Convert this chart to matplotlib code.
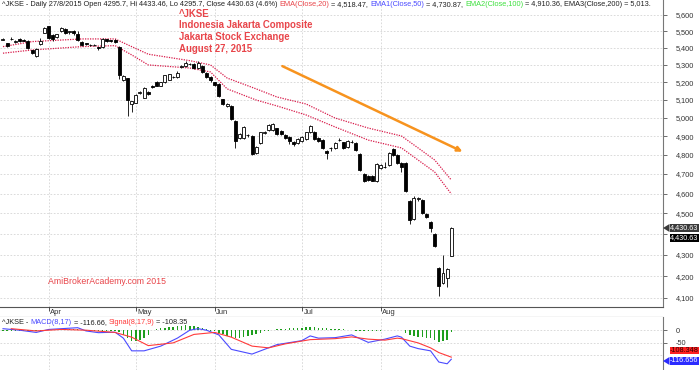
import matplotlib
matplotlib.use('Agg')
import matplotlib.pyplot as plt
from matplotlib.patches import Polygon
from matplotlib.ticker import FixedLocator, FuncFormatter, NullLocator

plt.rcParams['font.family'] = ['Liberation Sans', 'DejaVu Sans']

# ---- data ----
opens = [5450, 5428, 5452, 5438, 5452, 5450, 5442, 5385, 5352, 5425,
         5492, 5530, 5480, 5465, 5502, 5516, 5498, 5502, 5486, 5436,
         5428, 5420, 5418, 5404, 5405, 5452, 5446, 5448, 5405, 5215,
         5222, 5078, 5085, 5138, 5112, 5145, 5178, 5202, 5180, 5200,
         5215, 5232, 5230, 5288, 5292, 5304, 5306, 5280, 5296, 5256,
         5230, 5200, 5190, 5102, 5066, 5066, 4982, 4890, 4892, 4906,
         4900, 4812, 4862, 4918, 4932, 4935, 4942, 4930, 4906, 4896,
         4870, 4865, 4875, 4886, 4920, 4922, 4890, 4880, 4822, 4834,
         4836, 4878, 4866, 4840, 4869, 4862, 4806, 4700, 4690, 4690,
         4665, 4732, 4734, 4746, 4830, 4800, 4756, 4756, 4560, 4475,
         4572, 4565, 4496, 4460, 4400, 4240, 4170, 4190, 4295.7]
closes = [5455, 5412, 5456, 5444, 5440, 5444, 5400, 5370, 5395, 5442,
          5522, 5462, 5455, 5482, 5520, 5490, 5500, 5492, 5445, 5420,
          5424, 5418, 5417, 5402, 5455, 5442, 5442, 5434, 5240, 5236,
          5100, 5092, 5130, 5142, 5168, 5134, 5170, 5180, 5200, 5240,
          5245, 5228, 5256, 5291, 5310, 5306, 5280, 5312, 5260, 5230,
          5210, 5186, 5120, 5076, 5076, 4995, 4875, 4910, 4950, 4904,
          4805, 4840, 4920, 4922, 4960, 4966, 4912, 4912, 4892, 4876,
          4856, 4886, 4898, 4920, 4955, 4886, 4876, 4836, 4808, 4836,
          4865, 4880, 4836, 4874, 4871, 4826, 4720, 4666, 4670, 4666,
          4750, 4745, 4736, 4810, 4800, 4756, 4736, 4612, 4470, 4575,
          4575, 4500, 4482, 4430, 4340, 4155, 4215, 4235, 4430.63]
highs = [5462, 5432, 5465, 5450, 5458, 5455, 5446, 5390, 5400, 5460,
         5528, 5535, 5485, 5486, 5525, 5520, 5504, 5506, 5500, 5440,
         5432, 5424, 5422, 5408, 5460, 5456, 5450, 5452, 5410, 5240,
         5226, 5095, 5135, 5148, 5174, 5150, 5185, 5206, 5204, 5244,
         5250, 5236, 5262, 5300, 5325, 5312, 5310, 5325, 5300, 5260,
         5236, 5204, 5194, 5106, 5080, 5070, 4986, 4915, 4955, 4912,
         4905, 4845, 4925, 4928, 4965, 4970, 4946, 4934, 4910, 4900,
         4874, 4890, 4902, 4925, 4962, 4926, 4894, 4884, 4826, 4842,
         4870, 4890, 4870, 4880, 4878, 4866, 4810, 4704, 4694, 4694,
         4755, 4750, 4760, 4815, 4835, 4804, 4760, 4760, 4565, 4585,
         4580, 4570, 4500, 4464, 4404, 4244, 4300, 4240, 4433.46]
lows = [5445, 5408, 5448, 5432, 5436, 5440, 5396, 5365, 5345, 5420,
        5488, 5455, 5440, 5460, 5498, 5486, 5485, 5480, 5440, 5410,
        5418, 5412, 5410, 5385, 5400, 5438, 5438, 5430, 5220, 5205,
        5010, 5030, 5080, 5132, 5108, 5130, 5165, 5176, 5176, 5196,
        5212, 5224, 5226, 5282, 5288, 5298, 5276, 5276, 5255, 5225,
        5200, 5180, 5115, 5070, 5060, 4990, 4835, 4886, 4885, 4898,
        4800, 4805, 4858, 4914, 4928, 4930, 4908, 4906, 4885, 4860,
        4845, 4860, 4870, 4882, 4915, 4882, 4870, 4832, 4780, 4820,
        4832, 4874, 4830, 4836, 4864, 4820, 4716, 4660, 4666, 4662,
        4660, 4726, 4730, 4740, 4795, 4750, 4710, 4608, 4450, 4470,
        4560, 4495, 4478, 4410, 4336, 4111, 4165, 4150, 4295.7]

env_idx = [0, 7, 19, 27, 31, 35, 45, 50, 54, 61, 66, 73, 80, 88, 96, 100, 104, 108]
env_upper = [5408, 5438, 5454, 5454, 5408, 5363, 5325, 5300, 5224, 5162,
             5116, 5077, 4999, 4944, 4901, 4837, 4773, 4669]
env_lower = [5369, 5388, 5408, 5414, 5359, 5300, 5282, 5259, 5162, 5099,
             5066, 5016, 4950, 4879, 4837, 4773, 4710, 4598]

macd_idx = [0, 4, 8, 11, 18, 20, 23, 27, 29, 31, 34, 38, 42, 45, 47, 49, 52, 55,
            60, 63, 66, 72, 74, 76, 80, 84, 88, 92, 95, 96, 98, 100, 103, 105, 107, 108]
macd_val = [6, 0, -9, 3, 10, -3, -10, -8, -32, -83, -83, -64, -32, 0, 6, 0, -19, -77,
            -96, -77, -58, -42, -23, -32, -30, -19, -49, -36, -23, -28, -64, -74, -83,
            -128, -135, -116.66]
sig_idx = [2, 8, 14, 20, 27, 31, 35, 41, 46, 51, 55, 60, 64, 68, 74, 80, 84, 88,
           92, 95, 96, 100, 103, 105, 108]
sig_val = [6, -3, 3, 0, -9, -28, -62, -51, -17, -9, -28, -64, -71, -55, -38, -34,
           -27, -36, -40, -32, -34, -51, -71, -90, -108.35]
hist = [-2, -3, -3, -4, -4, -3, -4, -5, -4, -3,
        1, 2, 2, 1, 2, 3, 3, 4, 3, 2,
        -2, -3, -4, -4, -5, -4, -4, -3,
        -8, -20, -32, -42, -45, -40, -30, -18,
        2, 5, 8, 10, 12, 13, 15, 17, 19, 18, 16, 12, 8, 3,
        -2,
        -5, -10, -15, -22, -28, -32, -31, -28, -25, -20, -15, -10,
        -5, -2, 1,
        3, 5, 6, 8, 8, 9, 10, 11, 12, 12, 10, 8, 7, 6, 5, 4, 3, 2, 1,
        -2, -3, -5, -5, -4, -3, -2,
        1, 2, 2, 2, 1,
        -12, -20, -24, -26, -28, -30, -33, -40, -48, -45, -38, -8]

month_idx = [11, 32, 51, 72, 91]
month_lbl = ['Apr', 'May', 'Jun', 'Jul', 'Aug']
price_ticks = list(range(4100, 5700, 100))

W, H = 700, 370
fig = plt.figure(figsize=(7, 3.7), dpi=100)
XL = (-0.72, 159.0)
GRID = dict(color='#d4d4d4', lw=0.6, ls=(0, (2, 2)))

ax = fig.add_axes([0, 63 / H, 663 / W, 307 / H])
strip = fig.add_axes([0, 53 / H, 663 / W, 10 / H])
am = fig.add_axes([0, 0, 663 / W, 53 / H])

# ---- price panel ----
ax.set_yscale('log')
ax.set_ylim(4059.5, 5693)
ax.set_xlim(*XL)
for p in price_ticks:
    ax.axhline(p, zorder=0, **GRID)
for m in month_idx:
    ax.axvline(m, zorder=0, **GRID)

for i in range(len(closes)):
    o, c = opens[i], closes[i]
    ax.vlines(i, lows[i], highs[i], color='black', lw=0.6, zorder=2)
    up = c >= o
    ax.bar(i, abs(c - o) if abs(c - o) > 1 else 1.5, bottom=min(o, c), width=0.72,
           color='white' if up else 'black', edgecolor='black', lw=0.6, zorder=3)

ax.plot(env_idx, env_upper, color='#d81b4a', lw=0.9, ls=(0, (1, 1)), zorder=1)
ax.plot(env_idx, env_lower, color='#d81b4a', lw=0.9, ls=(0, (1, 1)), zorder=1)

ax.annotate('', xy=(111.3, 4811), xytext=(66.7, 5300),
            arrowprops=dict(arrowstyle='-|>', color='#f7931e', lw=1.8, mutation_scale=7))

ax.yaxis.tick_right()
ax.yaxis.set_major_locator(FixedLocator(price_ticks))
ax.yaxis.set_minor_locator(NullLocator())
# the 4,400 label sits under the last-price tags, as in the original
ax.yaxis.set_major_formatter(FuncFormatter(lambda v, p: '' if round(v) == 4400 else f'{v:,.0f}'))
ax.tick_params(axis='y', length=3, width=0.6, color='#555', labelsize=5.3,
               labelcolor='#333', pad=6)
ax.set_xticks([])
for s in ['top', 'left']:
    ax.spines[s].set_visible(False)
ax.spines['right'].set_color('#777')
ax.spines['bottom'].set_color('#555')
ax.spines['right'].set_linewidth(0.8)
ax.spines['bottom'].set_linewidth(0.8)

# ---- date strip ----
strip.set_xlim(*XL)
strip.set_ylim(0, 1)
strip.axis('off')
strip.plot([XL[0], XL[1]], [0, 0], color='#555', lw=0.8)
for m, lb in zip(month_idx, month_lbl):
    strip.vlines(m, 0.6, 1.0, color='#333', lw=0.6)
    strip.text(m + 0.4, 0.45, lb, fontsize=5.5, color='#333', va='center', ha='left')

# ---- MACD panel ----
am.set_xlim(*XL)
am.set_ylim(-160, 53)
for v in [0, -50, -100]:
    am.axhline(v, zorder=0, **GRID)
for m in month_idx:
    am.axvline(m, zorder=0, **GRID)
am.bar(range(len(hist)), hist, width=0.35, color='#1e9e1e', zorder=2)
am.plot(macd_idx, macd_val, color='#4a4aff', lw=0.8, zorder=3)
am.plot(sig_idx, sig_val, color='#ff3a3a', lw=0.8, zorder=3)
am.yaxis.tick_right()
am.set_yticks([0, -50])
am.set_yticklabels(['0', '-50'])
am.tick_params(axis='y', length=3, width=0.6, color='#555', labelsize=5.3,
               labelcolor='#333', pad=6)
am.set_xticks([])
for s in ['top', 'left', 'bottom']:
    am.spines[s].set_visible(False)
am.spines['right'].set_color('#777')
am.spines['right'].set_linewidth(0.8)


# ---- text ----
def rainbow(a, x, y, parts, size):
    t = fig.text(x / W, 1 - y / H, parts[0][0], color=parts[0][1], fontsize=size,
                 va='center', ha='left')
    for s, c in parts[1:]:
        t = a.annotate(s, xy=(1, 0), xycoords=t, va='bottom', ha='left', color=c,
                       fontsize=size, annotation_clip=False)
        t.set_clip_on(False)


DK = '#222222'
rainbow(ax, 2, 5, [('^JKSE - Daily 27/8/2015 Open 4295.7, Hi 4433.46, Lo 4295.7, Close 4430.63 (4.6%) ', DK),
                   ('EMA(Close,20)', '#e8454a'), (' = 4,518.47, ', DK),
                   ('EMA1(Close,50)', '#4a4aff'), (' = 4,730.87, ', DK),
                   ('EMA2(Close,100)', '#3ee03e'), (' = 4,910.36, EMA3(Close,200) = 5,013.', DK)], 5.3)
rainbow(am, 2, 322.5, [('^JKSE - ', DK), ('MACD(8,17)', '#4a4aff'), (' = -116.66, ', DK),
                       ('Signal(8,17,9)', '#ff3a3a'), (' = -108.35', DK)], 5.3)

RED = '#e8454a'
for yy, s in zip([14, 25.5, 37, 48.5],
                 ['^JKSE', 'Indonesia Jakarta Composite', 'Jakarta Stock Exchange', 'August 27, 2015']):
    fig.text(179 / W, 1 - yy / H, s, color=RED, fontsize=6.9, fontweight='bold',
             va='center', ha='left')
fig.text(48 / W, 1 - 282 / H, 'AmiBrokerAcademy.com 2015', color=RED, fontsize=6.3,
         va='center', ha='left')


# price / indicator tags on the right axis
def tag(y, s, fc, tc, arrow):
    fig.text(670 / W, 1 - y / H, s, color=tc, fontsize=5.2, va='center', ha='left',
             bbox=dict(boxstyle='square,pad=0.05', fc=fc, ec='none'))
    if arrow:
        fig.add_artist(Polygon([(663 / W, 1 - y / H), (669.5 / W, 1 - (y - 4) / H),
                                (669.5 / W, 1 - (y + 4) / H)], closed=True, fc=fc, ec='none',
                               transform=fig.transFigure))


tag(228, f'{closes[-1]:,.2f}', '#3a3a3a', 'white', True)
tag(238, f'{closes[-1]:,.2f}', 'black', 'white', False)
tag(350.5, '-108.348', '#ff2020', '#330000', False)
tag(361, '-116.656', '#2b2bff', 'white', True)

fig.savefig('out.png', dpi=100)
